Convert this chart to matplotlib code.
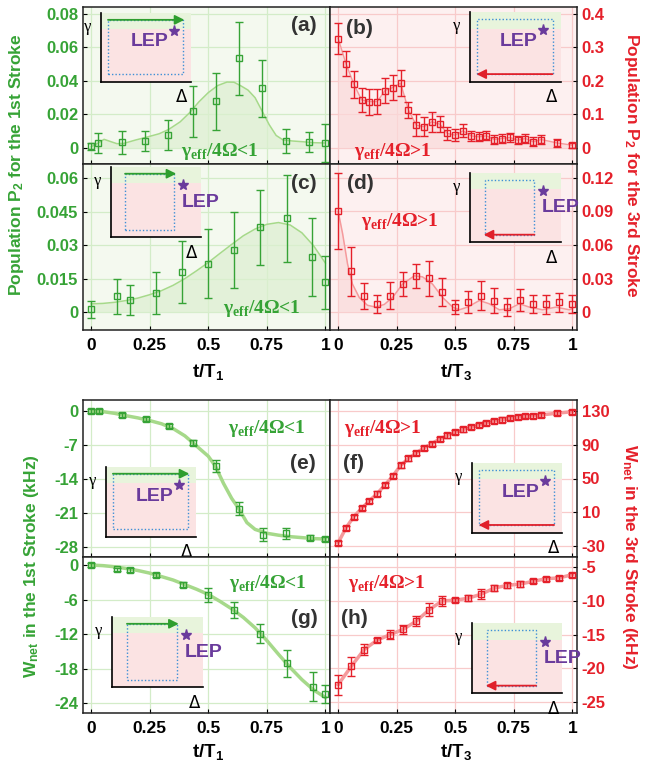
import numpy as np
import matplotlib.pyplot as plt
from matplotlib.patches import Rectangle
from matplotlib.ticker import FormatStrFormatter

plt.rcParams['font.family'] = ['Liberation Sans', 'DejaVu Sans']
plt.rcParams['font.weight'] = 'bold'
plt.rcParams['mathtext.fontset'] = 'custom'
plt.rcParams['mathtext.rm'] = 'Liberation Sans:bold'
plt.rcParams['mathtext.it'] = 'Liberation Sans:bold'
plt.rcParams['mathtext.bf'] = 'Liberation Sans:bold'
plt.rcParams['mathtext.sf'] = 'Liberation Serif:bold'

# ---------------- data ----------------
# (a) population, 1st stroke, gamma/4Omega < 1
t_a = [0.0, 0.031, 0.131, 0.231, 0.33, 0.433, 0.531, 0.632, 0.731, 0.832, 0.930, 0.999]
p_a = [0.001, 0.003, 0.0034, 0.004, 0.0076, 0.0218, 0.0278, 0.0534, 0.0356, 0.0044, 0.0036, 0.003]
e_a = [0.002, 0.006, 0.0067, 0.006, 0.009, 0.015, 0.017, 0.0217, 0.017, 0.0072, 0.0057, 0.0115]
ct_a = [0.0, 0.03, 0.055, 0.08, 0.11, 0.14, 0.19, 0.24, 0.29, 0.33, 0.38, 0.42, 0.46, 0.50,
        0.54, 0.58, 0.61, 0.64, 0.67, 0.70, 0.73, 0.76, 0.79, 0.82, 0.86, 0.90, 0.95, 1.0]
cp_a = [0.0008, 0.003, 0.0052, 0.004, 0.0026, 0.0028, 0.0048, 0.0066, 0.0085, 0.011, 0.0156,
        0.021, 0.0275, 0.033, 0.0372, 0.0393, 0.0392, 0.037, 0.0345, 0.030, 0.022, 0.014,
        0.0075, 0.0048, 0.0042, 0.0038, 0.0032, 0.003]

# (b) population, 3rd stroke, gamma/4Omega > 1
t_b = [i / 30 for i in list(range(27)) + [28, 30]]
p_b = [0.326, 0.251, 0.19, 0.143, 0.138, 0.138, 0.171, 0.18, 0.193, 0.113, 0.068, 0.063,
       0.078, 0.071, 0.043, 0.038, 0.051, 0.036, 0.033, 0.036, 0.025, 0.028, 0.031, 0.023,
       0.028, 0.018, 0.025, 0.015, 0.008]
e_b = [0.0475, 0.0375, 0.04, 0.037, 0.039, 0.037, 0.037, 0.037, 0.039, 0.024, 0.033, 0.028,
       0.03, 0.025, 0.018, 0.018, 0.02, 0.015, 0.013, 0.013, 0.013, 0.013, 0.013, 0.012,
       0.013, 0.013, 0.013, 0.012, 0.008]

# (c) population, 1st stroke, gamma/4Omega < 1
t_c = [0.0, 0.11, 0.164, 0.276, 0.387, 0.499, 0.611, 0.722, 0.835, 0.944, 1.0]
p_c = [0.0012, 0.0071, 0.0056, 0.0086, 0.0181, 0.0217, 0.0276, 0.0379, 0.042, 0.0246, 0.0133]
e_c = [0.004, 0.0079, 0.0067, 0.0093, 0.0139, 0.0153, 0.017, 0.0168, 0.0196, 0.0175, 0.012]
ct_c = [0.0, 0.05, 0.1, 0.15, 0.2, 0.25, 0.3, 0.35, 0.4, 0.45, 0.5, 0.55, 0.6, 0.65, 0.7,
        0.75, 0.8, 0.85, 0.9, 0.95, 1.0]
cp_c = [0.0037, 0.0039, 0.0044, 0.0052, 0.0063, 0.0078, 0.0096, 0.012, 0.015, 0.0185,
        0.0222, 0.0263, 0.0303, 0.0342, 0.0372, 0.0393, 0.0401, 0.039, 0.0355, 0.0297, 0.022]

# (d) population, 3rd stroke, gamma/4Omega > 1
t_d = [i / 18 for i in range(19)]
p_d = [0.09, 0.0363, 0.0142, 0.0068, 0.0147, 0.0251, 0.0324, 0.0301, 0.0183, 0.0044,
       0.0088, 0.0147, 0.0103, 0.0044, 0.0109, 0.0074, 0.0068, 0.0088, 0.0068]
e_d = [0.034, 0.0217, 0.0114, 0.0081, 0.0118, 0.011, 0.011, 0.016, 0.0125, 0.0062,
       0.0096, 0.0127, 0.0112, 0.0077, 0.0096, 0.0081, 0.0084, 0.0084, 0.0081]
ct_d = [0.0, 0.019, 0.040, 0.061, 0.090, 0.125, 0.161, 0.197, 0.232, 0.275, 0.325, 0.36,
        0.403, 0.446, 0.489, 0.517, 0.553, 0.603, 0.645, 0.688, 0.731, 0.774, 0.816,
        0.873, 0.930, 0.987, 1.0]
cp_d = [0.09, 0.07, 0.043, 0.025, 0.013, 0.006, 0.0044, 0.0068, 0.013, 0.025, 0.0324,
        0.0315, 0.025, 0.013, 0.0044, 0.002, 0.0044, 0.0103, 0.0074, 0.002, 0.0029, 0.0074,
        0.0044, 0.002, 0.0044, 0.002, 0.003]

# (e) work, 1st stroke
t_e = [0.0, 0.034, 0.131, 0.234, 0.333, 0.434, 0.531, 0.632, 0.732, 0.833, 0.933, 1.0]
w_e = [0.0, 0.0, -0.82, -1.64, -3.08, -6.5, -11.3, -20.1, -25.5, -25.2, -26.1, -26.4]
e_e = [0.4, 0.4, 0.4, 0.4, 0.4, 0.5, 1.2, 1.3, 1.4, 1.1, 0.5, 0.5]
ct_e = [0.0, 0.05, 0.1, 0.15, 0.2, 0.25, 0.3, 0.35, 0.4, 0.45, 0.5, 0.53, 0.565, 0.6, 0.63,
        0.665, 0.7, 0.75, 0.8, 0.85, 0.9, 0.95, 1.0]
cw_e = [0.0, -0.1, -0.45, -0.95, -1.4, -1.95, -2.6, -3.6, -5.1, -7.2, -9.3, -11.3, -14.9,
        -18.0, -20.1, -23.0, -24.4, -25.2, -25.6, -25.9, -26.1, -26.3, -26.4]

# (f) work, 3rd stroke
t_f = [i / 30 for i in list(range(27)) + [28, 30]]
w_f = [-26.1, -8.5, 4.8, 14.6, 23.6, 32.2, 42.4, 53.0, 65.5, 73.7, 80.3, 86.2, 91.3, 96.7,
       101.0, 105.0, 108.1, 110.8, 113.6, 115.9, 118.3, 119.8, 121.4, 123.0, 123.7, 124.5,
       125.3, 127.3, 129.2]
e_f = [2.5] * 29

# (g) work, 1st stroke
t_g = [0.0, 0.11, 0.167, 0.278, 0.39, 0.5, 0.611, 0.722, 0.835, 0.946, 1.0]
w_g = [0.0, -0.76, -0.88, -1.76, -3.41, -5.18, -7.82, -11.9, -17.1, -21.1, -22.4]
e_g = [0.3, 0.3, 0.3, 0.3, 0.4, 1.2, 1.4, 1.7, 2.4, 2.6, 1.5]
ct_g = [0.0, 0.05, 0.1, 0.15, 0.2, 0.25, 0.3, 0.35, 0.4, 0.45, 0.5, 0.55, 0.6, 0.65, 0.7,
        0.75, 0.8, 0.85, 0.9, 0.95, 1.0]
cw_g = [0.0, -0.1, -0.3, -0.6, -0.95, -1.4, -2.0, -2.6, -3.4, -4.2, -5.1, -6.3, -7.6, -9.1,
        -10.9, -13.1, -15.5, -17.8, -19.9, -21.7, -23.0]

# (h) work, 3rd stroke
t_h = [i / 18 for i in range(19)]
w_h = [-22.4, -19.7, -17.2, -15.8, -15.0, -14.2, -13.0, -11.3, -10.0, -9.9, -9.6, -9.0,
       -8.1, -7.7, -7.5, -7.1, -6.7, -6.6, -6.1]
e_h = [1.5, 1.35, 0.8, 0.3, 0.7, 0.7, 0.7, 1.0, 0.7, 0.3, 0.4, 0.7, 0.5, 0.4, 0.4, 0.3,
       0.3, 0.3, 0.3]

# ---------------- style ----------------
GREEN = '#36a336'
GREEN_LINE = '#a6d98a'
GREEN_FILL = '#dcefd0'
RED = '#e5202a'
RED_LINE = '#f59a9c'
RED_FILL = '#fadada'
BG_G = '#f4f9ef'
BG_R = '#fdf0f0'
GRID_G = '#d3ecc8'
GRID_R = '#f8caca'
PURPLE = '#6a3b9c'
DOT_BLUE = '#3d8fd6'
LABEL_C = '#333333'

fig = plt.figure(figsize=(6.57, 7.61), dpi=100)


def box(x0, y0, x1, y1):
    return [x0 / 657, 1 - y1 / 761, (x1 - x0) / 657, (y1 - y0) / 761]


def style(ax, left, ylim, yticks, bg, show_x):
    ax.set_xlim(-0.035, 1.02)
    ax.set_ylim(*ylim)
    ax.set_yticks(yticks)
    ax.yaxis.set_major_formatter(FormatStrFormatter('%g'))
    ax.set_xticks([0, 0.25, 0.5, 0.75, 1])
    ax.xaxis.set_major_formatter(FormatStrFormatter('%g'))
    if bg:
        ax.set_facecolor(BG_G if left else BG_R)
    ax.grid(True, color=GRID_G if left else GRID_R, lw=0.9)
    ax.set_axisbelow(True)
    col = GREEN if left else RED
    ax.tick_params(axis='y', direction='in', length=3, labelsize=12, labelcolor=col,
                   left=left, right=not left, labelleft=left, labelright=not left)
    ax.tick_params(axis='x', direction='in', length=3, labelsize=12.5, pad=6,
                   labelbottom=show_x)
    for s in ax.spines.values():
        s.set_color('#222222')
        s.set_linewidth(1.1)


def draw_inset(ax, bounds, wide, left):
    ins = ax.inset_axes(bounds)
    ins.set_xlim(0, 1)
    ins.set_ylim(0, 1)
    ins.set_zorder(5)
    ins.fill_between([0, 1], 0.765, 1, color='#e8f4dc', lw=0)
    ins.fill_between([0, 1], 0, 0.765, color='#fbe3e3', lw=0)
    ins.set_xticks([])
    ins.set_yticks([])
    ins.spines['top'].set_visible(False)
    ins.spines['right'].set_visible(False)
    ins.spines['left'].set_linewidth(1.2)
    ins.spines['bottom'].set_linewidth(1.2)
    if wide:
        rx0, rx1 = 0.08, 0.91
    else:
        rx0, rx1 = 0.16, 0.71
    ry0, ry1 = 0.11, 0.90
    ins.add_patch(Rectangle((rx0, ry0), rx1 - rx0, ry1 - ry0, fill=False,
                            ls=(0, (1, 1.5)), lw=1.0, ec=DOT_BLUE))
    if left:
        ins.annotate('', xy=(rx1 + 0.02, ry1), xytext=(rx0, ry1),
                     arrowprops=dict(arrowstyle='-|>', color='#2e9e2e', lw=1.3,
                                     mutation_scale=14, shrinkA=0, shrinkB=0))
    else:
        ins.annotate('', xy=(rx0 - 0.01, ry0), xytext=(rx1, ry0),
                     arrowprops=dict(arrowstyle='-|>', color='#e0202a', lw=1.3,
                                     mutation_scale=14, shrinkA=0, shrinkB=0))
    ins.plot([0.81], [0.74], marker='*', color=PURPLE, ms=8, clip_on=False)
    if wide:
        ins.text(0.54, 0.58, 'LEP', color=PURPLE, fontsize=14, ha='center', va='center')
    else:
        ins.text(1.0, 0.50, 'LEP', color=PURPLE, fontsize=14, ha='center', va='center',
                 clip_on=False)
    ins.text(-0.15, 0.8, 'γ', fontsize=12, ha='center', va='center',
             family='Liberation Serif', weight='normal')
    ins.text(0.9, -0.22, 'Δ', fontsize=12, ha='center', va='center',
             family='DejaVu Sans', weight='normal')


def ratio_text(ax, x, y, text, col):
    ax.text(x, y, text, transform=ax.transAxes, color=col, fontsize=14,
            family='Liberation Serif', weight='bold', ha='center', va='center')


def panel_label(ax, x, y, s):
    ax.text(x, y, s, transform=ax.transAxes, fontsize=15, color=LABEL_C,
            ha='center', va='center')


ax_a = fig.add_axes(box(83, 7, 330, 164))
ax_b = fig.add_axes(box(330, 7, 577, 164))
ax_c = fig.add_axes(box(83, 164, 330, 330))
ax_d = fig.add_axes(box(330, 164, 577, 330))
ax_e = fig.add_axes(box(83, 400, 330, 557))
ax_f = fig.add_axes(box(330, 400, 577, 557))
ax_g = fig.add_axes(box(83, 557, 330, 713))
ax_h = fig.add_axes(box(330, 557, 577, 713))

style(ax_a, True, (-0.0095, 0.084), [0, 0.02, 0.04, 0.06, 0.08], True, False)
style(ax_b, False, (-0.048, 0.42), [0, 0.1, 0.2, 0.3, 0.4], True, False)
style(ax_c, True, (-0.008, 0.0663), [0, 0.015, 0.03, 0.045, 0.06], True, True)
style(ax_d, False, (-0.0161, 0.1325), [0, 0.03, 0.06, 0.09, 0.12], True, True)
style(ax_e, True, (-30.1, 2.3), [-28, -21, -14, -7, 0], False, False)
style(ax_f, False, (-43, 143), [-30, 10, 50, 90, 130], False, False)
style(ax_g, True, (-25.7, 1.4), [-24, -18, -12, -6, 0], False, True)
style(ax_h, False, (-26.6, -3.5), [-25, -20, -15, -10, -5], False, True)

mk = dict(fmt='s', ms=5, mfc='none', mew=1.0, capsize=3, elinewidth=1.0, capthick=1.0,
          zorder=4)

# (a)
ax_a.fill_between(ct_a, 0, cp_a, color=GREEN_FILL, alpha=0.7, lw=0)
ax_a.plot(ct_a, cp_a, color=GREEN_LINE, lw=1.1)
ax_a.errorbar(t_a, p_a, yerr=e_a, color=GREEN, **mk)
# (b)
ax_b.fill_between(t_b, 0, p_b, color=RED_FILL, alpha=0.7, lw=0)
ax_b.plot(t_b, p_b, color=RED_LINE, lw=1.0)
ax_b.errorbar(t_b, p_b, yerr=e_b, color=RED, **mk)
# (c)
ax_c.fill_between(ct_c, 0, cp_c, color=GREEN_FILL, alpha=0.7, lw=0)
ax_c.plot(ct_c, cp_c, color=GREEN_LINE, lw=1.1)
ax_c.errorbar(t_c, p_c, yerr=e_c, color=GREEN, **mk)
# (d)
ax_d.fill_between(ct_d, 0, cp_d, color=RED_FILL, alpha=0.7, lw=0)
ax_d.plot(ct_d, cp_d, color=RED_LINE, lw=1.1)
ax_d.errorbar(t_d, p_d, yerr=e_d, color=RED, **mk)
# (e)
ax_e.plot(ct_e, cw_e, color=GREEN_LINE, lw=2.5)
ax_e.errorbar(t_e, w_e, yerr=e_e, color=GREEN, **mk)
# (f)
ax_f.plot(t_f, w_f, color=RED_LINE, lw=2.5)
ax_f.errorbar(t_f, w_f, yerr=e_f, color=RED, **mk)
# (g)
ax_g.plot(ct_g, cw_g, color=GREEN_LINE, lw=2.5)
ax_g.errorbar(t_g, w_g, yerr=e_g, color=GREEN, **mk)
# (h)
ax_h.plot(t_h, w_h, color=RED_LINE, lw=2.5)
ax_h.errorbar(t_h, w_h, yerr=e_h, color=RED, **mk)

# insets (schematic of the encircling path around the LEP)
draw_inset(ax_a, [0.072, 0.524, 0.364, 0.438], True, True)
draw_inset(ax_b, [0.567, 0.524, 0.367, 0.442], True, False)
draw_inset(ax_c, [0.112, 0.558, 0.364, 0.426], False, True)
draw_inset(ax_d, [0.567, 0.528, 0.367, 0.420], False, False)
draw_inset(ax_e, [0.092, 0.129, 0.364, 0.446], True, True)
draw_inset(ax_f, [0.576, 0.155, 0.364, 0.445], True, False)
draw_inset(ax_g, [0.119, 0.165, 0.368, 0.452], False, True)
draw_inset(ax_h, [0.576, 0.126, 0.364, 0.449], False, False)

lt = r'γ$_{\mathsf{eff}}$/4Ω<1'
gt = r'γ$_{\mathsf{eff}}$/4Ω>1'
ratio_text(ax_a, 0.555, 0.078, lt, GREEN)
ratio_text(ax_b, 0.256, 0.078, gt, RED)
ratio_text(ax_c, 0.723, 0.13, lt, GREEN)
ratio_text(ax_d, 0.283, 0.652, gt, RED)
ratio_text(ax_e, 0.744, 0.82, lt, GREEN)
ratio_text(ax_f, 0.216, 0.82, gt, RED)
ratio_text(ax_g, 0.75, 0.831, lt, GREEN)
ratio_text(ax_h, 0.23, 0.831, gt, RED)

panel_label(ax_a, 0.892, 0.885, '(a)')
panel_label(ax_b, 0.121, 0.864, '(b)')
panel_label(ax_c, 0.895, 0.884, '(c)')
panel_label(ax_d, 0.121, 0.884, '(d)')
panel_label(ax_e, 0.892, 0.597, '(e)')
panel_label(ax_f, 0.097, 0.597, '(f)')
panel_label(ax_g, 0.895, 0.607, '(g)')
panel_label(ax_h, 0.097, 0.607, '(h)')

fig.text(17 / 657, 1 - 165 / 761, r'Population P$_2$ for the 1st Stroke', color=GREEN,
         fontsize=12.5, rotation=90, ha='center', va='center')
fig.text(632 / 657, 1 - 165 / 761, r'Population P$_2$ for the 3rd Stroke', color=RED,
         fontsize=12.5, rotation=270, ha='center', va='center')
fig.text(32 / 657, 1 - 566 / 761, r'W$_{\mathrm{net}}$ in the 1st Stroke (kHz)', color=GREEN,
         fontsize=12.5, rotation=90, ha='center', va='center')
fig.text(629 / 657, 1 - 557 / 761, r'W$_{\mathrm{net}}$ in the 3rd Stroke (kHz)', color=RED,
         fontsize=12.5, rotation=270, ha='center', va='center')

for yy in (372, 752):
    fig.text(208 / 657, 1 - yy / 761, r't/T$_1$', fontsize=13.5, ha='center', va='center')
    fig.text(456 / 657, 1 - yy / 761, r't/T$_3$', fontsize=13.5, ha='center', va='center')

fig.savefig('out.png', dpi=100)
